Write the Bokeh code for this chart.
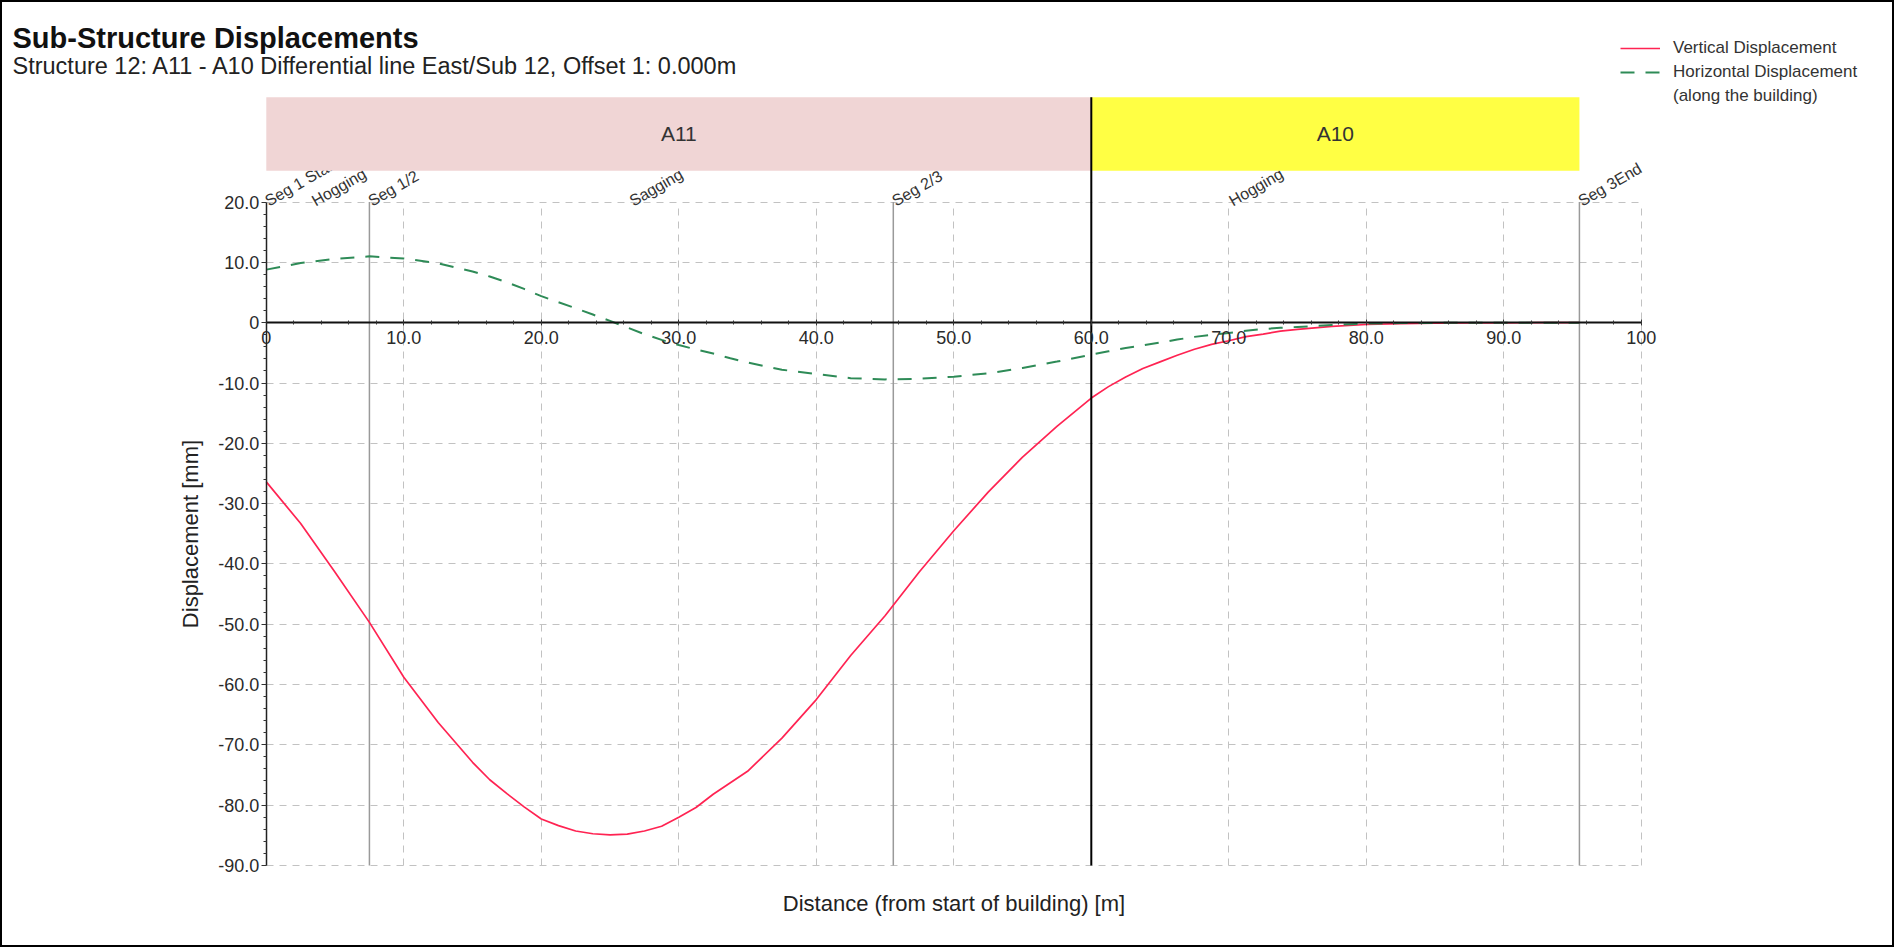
from bokeh.plotting import figure
from bokeh.models import (Range1d, LinearAxis, FixedTicker, Grid, Label,
                          Legend, LegendItem, ColumnDataSource)
from bokeh.core.properties import value
from bokeh.embed import file_html
from bokeh.resources import INLINE

# ---------------- data ----------------
distance = [0, 2.5, 5, 7.5, 10, 12.5, 15, 16.25, 17.5, 18.75, 20, 21.25, 22.5, 23.75,
            25, 26.25, 27.5, 28.75, 30, 31.25, 32.5, 33.75, 35, 37.5, 40, 42.5, 45, 47.5,
            50, 52.5, 55, 57.5, 60, 61.25, 62.5, 63.75, 65, 66.25, 67.5, 68.75, 70,
            71.25, 72.5, 73.75, 75, 77.5, 80, 82.5, 85, 87.5, 90, 92.5, 95.5]
vertical = [-26.4, -33.3, -41.4, -49.7, -58.8, -66.3, -72.9, -75.8, -78.1, -80.3, -82.3,
            -83.4, -84.3, -84.75, -84.95, -84.8, -84.3, -83.5, -82.0, -80.4, -78.2, -76.3,
            -74.4, -68.9, -62.5, -55.2, -48.6, -41.3, -34.5, -28.1, -22.3, -17.2, -12.5,
            -10.6, -9.0, -7.6, -6.5, -5.4, -4.4, -3.6, -3.0, -2.3, -1.9, -1.4, -1.1, -0.6,
            -0.3, -0.15, -0.08, -0.04, -0.02, 0.0, 0.0]
horizontal = [8.8, 9.9, 10.6, 11.0, 10.65, 9.85, 8.5, 7.65, 6.7, 5.6, 4.4, 3.4, 2.4, 1.35,
              0.3, -0.8, -1.9, -2.85, -3.7, -4.45, -5.1, -5.9, -6.6, -7.8, -8.5, -9.2, -9.4,
              -9.3, -8.95, -8.4, -7.5, -6.45, -5.3, -4.75, -4.2, -3.75, -3.3, -2.8, -2.35,
              -2.0, -1.7, -1.35, -1.05, -0.85, -0.7, -0.4, -0.15, -0.07, -0.03, -0.01, 0.0,
              0.0, 0.0]

seg_x = [0.0, 7.5, 45.6, 95.5]
seg_names = ["Seg 1 Start", "Seg 1/2", "Seg 2/3", "Seg 3End"]
zone_x = [3.4, 26.5, 70.1]
zone_names = ["Hogging", "Sagging", "Hogging"]

struct_names = ["A11", "A10"]
struct_start = [0.0, 60.0]
struct_end = [60.0, 95.5]
struct_colors = ["#f0d5d5", "#ffff44"]

x_ticks = [0, 10, 20, 30, 40, 50, 60, 70, 80, 90, 100]
x_tick_labels = ["0", "10.0", "20.0", "30.0", "40.0", "50.0", "60.0", "70.0", "80.0", "90.0", "100"]
y_ticks = [-90, -80, -70, -60, -50, -40, -30, -20, -10, 0, 10, 20]
y_tick_labels = ["-90.0", "-80.0", "-70.0", "-60.0", "-50.0", "-40.0", "-30.0",
                 "-20.0", "-10.0", "0", "10.0", "20.0"]

title_text = "Sub-Structure Displacements"
subtitle_text = "Structure 12: A11 - A10 Differential line East/Sub 12, Offset 1: 0.000m"
legend_labels = ["Vertical Displacement", "Horizontal Displacement", "(along the building)"]

# ---------------- layout constants ----------------
FONT = "Liberation Sans"
W, H = 1894, 947
X0_PX, PX_PER_M = 265.8, 13.75      # pixel of x=0, pixels per metre
Y0_PX, PX_PER_MM = 322.2, 6.03      # pixel of y=0, pixels per mm
X_MIN, X_MAX = 0, 100
Y_MIN, Y_MAX = -90, 20
BAN_B, BAN_T = 25.2, 37.4           # structure banner (data units above the chart)

x_range = Range1d(-X0_PX / PX_PER_M, (W - X0_PX) / PX_PER_M)
y_range = Range1d((Y0_PX - H) / PX_PER_MM, Y0_PX / PX_PER_MM)

p = figure(width=W, height=H, x_range=x_range, y_range=y_range,
           x_axis_location=None, y_axis_location=None, output_backend="svg",
           toolbar_location=None, min_border=0)
p.center = []
p.outline_line_color = "black"
p.outline_line_width = 3
p.background_fill_color = "white"
p.border_fill_color = "white"

# ---------------- grids ----------------
grid_style = dict(grid_line_color="#c2c2c2", grid_line_dash="7 6", grid_line_width=1)
if "cross_bounds" in Grid.properties():
    p.add_layout(Grid(dimension=0, ticker=FixedTicker(ticks=x_ticks), bounds=(X_MIN, X_MAX),
                      cross_bounds=(Y_MIN, Y_MAX), **grid_style))
    p.add_layout(Grid(dimension=1, ticker=FixedTicker(ticks=y_ticks), bounds=(Y_MIN, Y_MAX),
                      cross_bounds=(X_MIN, X_MAX), **grid_style))
else:
    p.segment(x0=x_ticks, y0=Y_MIN, x1=x_ticks, y1=Y_MAX, line_color="#c2c2c2",
              line_dash="7 6", line_width=1)
    p.segment(x0=X_MIN, y0=y_ticks, x1=X_MAX, y1=y_ticks, line_color="#c2c2c2",
              line_dash="7 6", line_width=1)

# ---------------- segment lines ----------------
p.segment(x0=seg_x[1:], y0=Y_MIN, x1=seg_x[1:], y1=Y_MAX, line_color="#9a9a9a",
          line_width=1.5)

# ---------------- curves ----------------
src = ColumnDataSource(dict(x=distance, v=vertical, h=horizontal))
r_v = p.line("x", "v", source=src, line_color="#ff2352", line_width=1.7)
r_h = p.line("x", "h", source=src, line_color="#2e8b57", line_width=2,
             line_dash="14 11")

# ---------------- segment / zone labels ----------------
lab_src = ColumnDataSource(dict(x=seg_x + zone_x, y=[Y_MAX] * (len(seg_x) + len(zone_x)),
                                t=seg_names + zone_names))
p.text("x", "y", text="t", source=lab_src, angle=30, angle_units="deg",
       text_font=value(FONT), text_font_size="16px", text_color="#333333",
       text_align="left", text_baseline="middle")

# ---------------- structure banner ----------------
ban_src = ColumnDataSource(dict(l=struct_start, r=struct_end, c=struct_colors, n=struct_names,
                                xm=[(s + e) / 2 for s, e in zip(struct_start, struct_end)]))
p.quad(left="l", right="r", bottom=BAN_B, top=BAN_T, fill_color="c", line_color=None,
       source=ban_src)
p.text("xm", (BAN_B + BAN_T) / 2, text="n", source=ban_src, text_font=value(FONT),
       text_font_size="21px", text_color="#333333", text_align="center",
       text_baseline="middle")
p.segment(x0=struct_start[1], y0=Y_MIN, x1=struct_start[1], y1=BAN_T,
          line_color="black", line_width=2)

# ---------------- axes ----------------
x_minor = [v for v in range(X_MIN, X_MAX + 1, 2) if v % 10]
y_minor = [v for v in range(Y_MIN, Y_MAX + 1, 2) if v % 10]

yaxis = LinearAxis(ticker=FixedTicker(ticks=y_ticks, minor_ticks=y_minor),
                   major_label_overrides=dict(zip(y_ticks, y_tick_labels)),
                   fixed_location=X_MIN, bounds=(Y_MIN, Y_MAX),
                   axis_label="Displacement [mm]",
                   axis_line_color="#222222", axis_line_width=1.5,
                   major_tick_in=0, major_tick_out=5, minor_tick_in=0, minor_tick_out=3,
                   major_tick_line_color="#333333", minor_tick_line_color="#333333",
                   major_label_standoff=2, major_label_text_font=FONT,
                   major_label_text_font_size="18px", major_label_text_color="#2a2a2a",
                   axis_label_text_font=FONT, axis_label_text_font_size="22px",
                   axis_label_text_font_style="normal", axis_label_text_color="#222222",
                   axis_label_standoff=12)
p.add_layout(yaxis, "left")

xaxis = LinearAxis(ticker=FixedTicker(ticks=x_ticks, minor_ticks=x_minor),
                   major_label_overrides=dict(zip(x_ticks, x_tick_labels)),
                   fixed_location=0, bounds=(X_MIN, X_MAX),
                   axis_line_color="#111111", axis_line_width=2,
                   major_tick_in=3, major_tick_out=3, minor_tick_in=2, minor_tick_out=2,
                   major_tick_line_color="#333333", minor_tick_line_color="#333333",
                   major_label_standoff=5, major_label_text_font=FONT,
                   major_label_text_font_size="18px", major_label_text_color="#2a2a2a")
p.add_layout(xaxis, "below")

xlab = LinearAxis(ticker=FixedTicker(ticks=[]), fixed_location=Y_MIN, bounds=(X_MIN, X_MAX),
                  axis_label="Distance (from start of building) [m]",
                  axis_line_color=None, major_tick_line_color=None, minor_tick_line_color=None,
                  major_tick_out=0, minor_tick_out=0, major_tick_in=0, minor_tick_in=0,
                  major_label_standoff=0,
                  axis_label_text_font=FONT, axis_label_text_font_size="22px",
                  axis_label_text_font_style="normal", axis_label_text_color="#222222",
                  axis_label_standoff=25)
p.add_layout(xlab, "below")

# ---------------- titles ----------------
p.add_layout(Label(x=12, y=H - 37, x_units="screen", y_units="screen", text=title_text,
                   text_font=FONT, text_font_size="29px", text_font_style="bold",
                   text_color="#111111", text_baseline="alphabetic"))
p.add_layout(Label(x=12, y=H - 65, x_units="screen", y_units="screen", text=subtitle_text,
                   text_font=FONT, text_font_size="23.5px", text_color="#222222",
                   text_baseline="alphabetic"))

# ---------------- legend ----------------
legend = Legend(items=[LegendItem(label=legend_labels[0], renderers=[r_v]),
                       LegendItem(label=legend_labels[1], renderers=[r_h]),
                       LegendItem(label=legend_labels[2], renderers=[])],
                location=(1620, H - 106), border_line_color=None, background_fill_alpha=0,
                padding=0, margin=0, spacing=4, glyph_width=40, glyph_height=18,
                label_standoff=13, label_height=18, label_text_font=FONT,
                label_text_font_size="17px", label_text_color="#333333")
p.add_layout(legend)

open("out.html", "w").write(file_html(p, INLINE))
